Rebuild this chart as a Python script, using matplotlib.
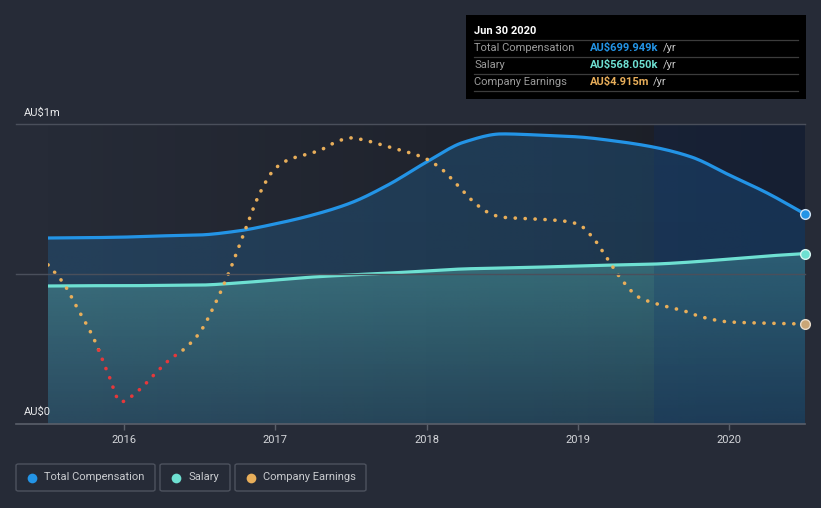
import numpy as np
import matplotlib
matplotlib.use("Agg")
import matplotlib.pyplot as plt
from matplotlib.patches import Rectangle, FancyBboxPatch
from matplotlib.lines import Line2D
from matplotlib.colors import to_rgb

plt.rcParams['font.family'] = ['Roboto', 'DejaVu Sans']

# ---------------- data ----------------
comp_years = [2015.5, 2015.75, 2016.0, 2016.25, 2016.5, 2016.75, 2017.0, 2017.25, 2017.5,
              2017.75, 2018.0, 2018.25, 2018.5, 2018.75, 2019.0, 2019.25, 2019.5, 2019.75,
              2020.0, 2020.25, 2020.5]
total_comp = [620, 621, 623, 627, 630, 643, 667, 697, 737, 798, 873, 940, 967, 963, 957,
              943, 923, 890, 830, 770, 699.949]  # AU$k
salary = [460, 461, 461, 462, 463, 470, 480, 490, 497, 503, 510, 517, 520, 523, 527,
          530, 533, 540, 550, 560, 568.050]  # AU$k

earn_years = [2015.5, 2015.6, 2015.7, 2015.8, 2015.9, 2015.98, 2016.1, 2016.2, 2016.3, 2016.4,
              2016.5, 2016.6, 2016.7, 2016.8, 2016.9, 2017.0, 2017.1, 2017.2, 2017.3, 2017.4,
              2017.5, 2017.6, 2017.7, 2017.8, 2017.9, 2018.0, 2018.1, 2018.2, 2018.3, 2018.4,
              2018.5, 2018.7, 2018.9, 2019.0, 2019.1, 2019.2, 2019.3, 2019.4, 2019.5, 2019.6,
              2019.7, 2019.8, 2019.9, 2020.0, 2020.2, 2020.5]
earnings = [16.1, 12.7, 7.6, 2.3, -4.7, -9.8, -7.6, -4.7, -1.9, 0.2,
            3.2, 8.5, 15.0, 22.5, 29.7, 34.3, 36.1, 36.9, 37.8, 39.3,
            40.1, 39.6, 38.8, 38.0, 37.2, 36.1, 34.2, 31.3, 28.3, 26.1,
            25.1, 24.8, 24.4, 23.8, 21.2, 17.0, 12.9, 10.0, 8.9, 8.1,
            7.4, 6.4, 5.7, 5.3, 5.1, 4.915]  # AU$m

xtick_years = [2016, 2017, 2018, 2019, 2020]
xtick_labels = ['2016', '2017', '2018', '2019', '2020']


def smooth(xs, ys, per_seg=12):
    """Monotone cubic (Fritsch-Carlson) curve through the data points, for drawing only."""
    x = np.asarray(xs, float)
    y = np.asarray(ys, float)
    h = np.diff(x)
    d = np.diff(y) / h
    m = np.zeros_like(y)
    m[0], m[-1] = d[0], d[-1]
    for i in range(1, len(y) - 1):
        if d[i - 1] * d[i] <= 0:
            m[i] = 0
        else:
            w1 = 2 * h[i] + h[i - 1]
            w2 = h[i] + 2 * h[i - 1]
            m[i] = (w1 + w2) / (w1 / d[i - 1] + w2 / d[i])
    outx, outy = [], []
    for i in range(len(x) - 1):
        t = np.linspace(0, 1, per_seg, endpoint=False)
        h00 = 2 * t**3 - 3 * t**2 + 1
        h10 = t**3 - 2 * t**2 + t
        h01 = -2 * t**3 + 3 * t**2
        h11 = t**3 - t**2
        outx.append(x[i] + t * h[i])
        outy.append(h00 * y[i] + h10 * h[i] * m[i] + h01 * y[i + 1] + h11 * h[i] * m[i + 1])
    outx.append([x[-1]]); outy.append([y[-1]])
    return np.concatenate(outx), np.concatenate(outy)


# ---------------- figure ----------------
W, H = 821, 508
BG = '#262b37'
fig = plt.figure(figsize=(W / 100, H / 100), dpi=100, facecolor=BG)

def fx(px):
    return px / W

def fy(py):
    return 1 - py / H

L, R, T, B = 48, 805, 124, 424
ax = fig.add_axes([fx(L), fy(B), fx(R) - fx(L), fy(T) - fy(B)])
ax.set_facecolor('none')
x0, x1 = 2015.5, 2020.5
ax.set_xlim(x0, x1)
ax.set_ylim(0, 1000)
for s in ax.spines.values():
    s.set_visible(False)
ax.set_yticks([])
ax.set_xticks(xtick_years)
ax.set_xticklabels(xtick_labels, color='#d4d6da', fontsize=8)
ax.tick_params(axis='x', length=4, color='#5a5f6a', pad=4, width=1)

# background horizontal gradient
grad = np.linspace(0, 1, 256)[None, :]
c_l = np.array(to_rgb('#262b37'))
c_r = np.array(to_rgb('#1a1d25'))
img = c_l[None, None, :] * (1 - grad[..., None]) + c_r[None, None, :] * grad[..., None]
ax.imshow(img, extent=[x0, x1, 0, 1000], aspect='auto', zorder=0, interpolation='bicubic')

tcx, tcy = smooth(comp_years, total_comp)
scx, scy = smooth(comp_years, salary)

def grad_fill(xs, ys, color, a_top, a_bot, z):
    poly = ax.fill_between(xs, ys, 0, color='none', lw=0, zorder=z)
    rgb = to_rgb(color)
    n = 256
    alph = np.linspace(a_top, a_bot, n)[:, None]
    im = np.zeros((n, 2, 4))
    im[..., 0], im[..., 1], im[..., 2] = rgb
    im[..., 3] = alph
    ymax = max(ys)
    art = ax.imshow(im, extent=[x0, x1, 0, ymax], aspect='auto', zorder=z, interpolation='bilinear')
    art.set_clip_path(poly.get_paths()[0], transform=ax.transData)

grad_fill(tcx, tcy, '#2394e6', 0.22, 0.18, 1)
grad_fill(scx, scy, '#6ee0d2', 0.32, 0.08, 2)

# highlighted last-year region
ax.axvspan(2019.5, x1, color='#0a2a6a', alpha=0.2, lw=0, zorder=3)

# lines
ax.plot(tcx, tcy, color='#2394e6', lw=2.3, zorder=5, solid_capstyle='round')
ax.plot(scx, scy, color='#6ee0d2', lw=2.3, zorder=5, solid_capstyle='round')

# gridlines (figure coordinates, extend left)
for py in (T, (T + B) / 2):
    fig.add_artist(Line2D([fx(16), fx(R)], [fy(py), fy(py)], color='#4a4f5b', lw=1, zorder=1))
fig.add_artist(Line2D([fx(16), fx(R)], [fy(B), fy(B)], color='#5a5f6a', lw=1.2, zorder=6))

# earnings on separate scale
ax2 = ax.twinx()
ax2.set_ylim(-13.99, 42.72)
ax2.set_xlim(x0, x1)
ax2.axis('off')
ex, ey = smooth(earn_years, earnings)
segs = []
cur_x, cur_y = [ex[0]], [ey[0]]
cur_neg = ey[0] < 0
for i in range(1, len(ex)):
    neg = ey[i] < 0
    if neg != cur_neg:
        t = ey[i - 1] / (ey[i - 1] - ey[i])
        xc = ex[i - 1] + t * (ex[i] - ex[i - 1])
        cur_x.append(xc); cur_y.append(0.0)
        segs.append((cur_x, cur_y, cur_neg))
        cur_x, cur_y = [xc], [0.0]
        cur_neg = neg
    cur_x.append(ex[i]); cur_y.append(ey[i])
segs.append((cur_x, cur_y, cur_neg))
for sx, sy, neg in segs:
    ax2.plot(sx, sy, color='#e5383b' if neg else '#e8ae5a', lw=2.6,
             linestyle=(0, (0.05, 2.7)), dash_capstyle='round', zorder=6)

# end markers
ax.plot([comp_years[-1]], [total_comp[-1]], 'o', ms=7, mfc='#2394e6', mec='#cfe3f5', mew=1, zorder=8, clip_on=False)
ax.plot([comp_years[-1]], [salary[-1]], 'o', ms=7, mfc='#6ee0d2', mec='#d8f5f1', mew=1, zorder=8, clip_on=False)
ax2.plot([earn_years[-1]], [earnings[-1]], 'o', ms=7, mfc='#c9a677', mec='#e8dccb', mew=1, zorder=8, clip_on=False)

# y labels
fig.text(fx(24), fy(113), 'AU$1m', color='#e8e9eb', fontsize=8, va='center', ha='left')
fig.text(fx(24), fy(412), 'AU$0', color='#e8e9eb', fontsize=8, va='center', ha='left')

# tooltip
fig.add_artist(Rectangle((fx(466), fy(99)), fx(806) - fx(466), fy(15) - fy(99),
                         transform=fig.transFigure, facecolor='#000000', edgecolor='none', zorder=10))
fig.text(fx(474), fy(31), 'Jun 30 2020', color='white', fontsize=8, fontweight='bold',
         va='center', ha='left', zorder=11)
for py in (40, 57, 74, 91):
    fig.add_artist(Line2D([fx(474), fx(798)], [fy(py), fy(py)], color='#3c3c3c', lw=0.9, zorder=11))
rows = [('Total Compensation', 'AU$699.949k', '#2394e6', 48),
        ('Salary', 'AU$568.050k', '#6ee0d2', 65),
        ('Company Earnings', 'AU$4.915m', '#e8ae5a', 82)]
fig.canvas.draw()
rend = fig.canvas.get_renderer()
for lab, val, col, py in rows:
    fig.text(fx(474), fy(py), lab, color='#9b9b9b', fontsize=8, va='center', ha='left', zorder=11)
    t = fig.text(fx(590), fy(py), val, color=col, fontsize=8, fontweight='bold',
                 va='center', ha='left', zorder=11)
    bb = t.get_window_extent(renderer=rend)
    fig.text(bb.x1 / W + fx(4), fy(py), '/yr', color='#c8c8c8', fontsize=8,
             va='center', ha='left', zorder=11)

# legend
leg = [('Total Compensation', '#2394e6', 16, 155),
       ('Salary', '#6ee0d2', 160, 230),
       ('Company Earnings', '#e8ae5a', 235, 366)]
for lab, col, bx0, bx1 in leg:
    fig.add_artist(FancyBboxPatch((fx(bx0), fy(491)), fx(bx1) - fx(bx0), fy(464) - fy(491),
                                  boxstyle='round,pad=0,rounding_size=0.003',
                                  transform=fig.transFigure, facecolor='none',
                                  edgecolor='#4d525e', lw=1))
    fig.add_artist(Line2D([fx(bx0 + 16)], [fy(477.5)], marker='o', ms=7, color=col,
                          mec='none', linestyle='none'))
    fig.text(fx(bx0 + 28), fy(477.5), lab, color='#c9cbcf', fontsize=8, va='center', ha='left')

fig.savefig('out.png', dpi=100, facecolor=BG)
